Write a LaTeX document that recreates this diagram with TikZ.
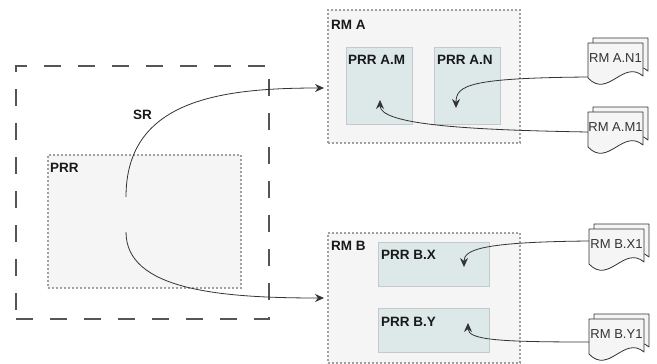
\documentclass[tikz,border=0pt]{standalone}
\usepackage{fontspec}
\setmainfont{Liberation Sans}
\usetikzlibrary{arrows.meta}
\definecolor{dashgray}{HTML}{555555}
\definecolor{dotgray}{HTML}{A0A0A0}
\definecolor{lightfill}{HTML}{F5F5F5}
\definecolor{prrfill}{HTML}{DDE8E8}
\definecolor{prrline}{HTML}{C4CACA}
\definecolor{ink}{HTML}{333333}
\newcommand\rmdoc[3]{%
  \begin{scope}[shift={(#1+5,#2-5)}]
    \draw[docpage] (0,0) -- (55,0) -- (55,33) .. controls (35,16) and (20,56) .. (0,35) -- cycle;
  \end{scope}
  \begin{scope}[shift={(#1,#2)}]
    \draw[docpage] (0,0) -- (55,0) -- (55,33) .. controls (35,16) and (20,56) .. (0,35) -- cycle;
  \end{scope}
  \node[doctext] (#3) at (#1+27.5,#2+16) {\strut#3};%
}
\begin{document}
\begin{tikzpicture}[x=1pt,y=-1pt,
 outerbox/.style={draw=dashgray, line width=2.3pt, dash pattern=on 17pt off 17pt, anchor=north west, inner sep=0, rectangle},
 dotbox/.style={draw=dotgray, fill=lightfill, line width=2pt, dash pattern=on 2pt off 2pt, anchor=north west, inner sep=0, rectangle},
 prrbox/.style={draw=prrline, fill=prrfill, line width=1.2pt, anchor=north west, inner sep=0, rectangle},
 lbl/.style={font=\bfseries\fontsize{13.5}{15}\selectfont, anchor=west, inner sep=0, text=black!90},
 doctext/.style={font=\fontsize{13}{15}\selectfont, inner sep=0, text=ink},
 docpage/.style={draw=ink, fill=lightfill, line width=0.8pt, line join=round},
 link/.style={draw=ink, line width=0.8pt, -{Stealth[length=9pt,width=8pt,inset=3pt]}},
]
\useasboundingbox (0,0) rectangle (657,364);

% outer dashed region
\node[outerbox, minimum width=253pt, minimum height=253pt] (outer) at (15,65) {};
\node[dotbox, minimum width=193pt, minimum height=133pt] (prr) at (47,154) {};
\node[lbl] (prrlbl) at (50,168) {PRR};
\node[lbl] (srlbl) at (133,115) {SR};

% SR curves
\coordinate (srA) at (126,197);
\coordinate (srB) at (126,232);
\coordinate (toA) at (324,88);
\coordinate (toB) at (324,298);
\draw[link] (srA) .. controls (126,100) and (220,88) .. (toA);
\draw[link] (srB) .. controls (126,290) and (220,298) .. (toB);

% RM A
\node[dotbox, minimum width=192pt, minimum height=133pt] (rma) at (327,9) {};
\node[lbl] (rmalbl) at (331,25) {RM A};
\node[prrbox, minimum width=66pt, minimum height=77pt] (prram) at (346,47) {};
\node[prrbox, minimum width=66pt, minimum height=77pt] (prran) at (434,47) {};
\node[lbl] (prramlbl) at (348,60) {PRR A.M};
\node[lbl] (prranlbl) at (437,60) {PRR A.N};

% RM B
\node[dotbox, minimum width=192pt, minimum height=130pt] (rmb) at (327,232) {};
\node[lbl] (rmblbl) at (331,246) {RM B};
\node[prrbox, minimum width=111pt, minimum height=44pt] (prrbx) at (378,242) {};
\node[prrbox, minimum width=111pt, minimum height=44pt] (prrby) at (378,308) {};
\node[lbl] (prrbxlbl) at (381,255) {PRR B.X};
\node[lbl] (prrbylbl) at (381,322) {PRR B.Y};

% documents
\rmdoc{588}{43}{RM A.N1}
\rmdoc{588}{112}{RM A.M1}
\rmdoc{589}{229}{RM B.X1}
\rmdoc{589}{319}{RM B.Y1}

% links from documents
\coordinate (an1) at (588,77);
\coordinate (am1) at (588,132);
\coordinate (bx1) at (589,241);
\coordinate (by1) at (589,342);
\coordinate (anT) at (456,108);
\coordinate (amT) at (380,100);
\coordinate (bxT) at (464,267);
\coordinate (byT) at (468,323);
\draw[link] (an1) .. controls (470,78) and (456,85) .. (anT);
\draw[link] (am1) .. controls (470,130) and (380,125) .. (amT);
\draw[link] (bx1) .. controls (480,242) and (464,250) .. (bxT);
\draw[link] (by1) .. controls (500,342) and (468,340) .. (byT);
\end{tikzpicture}
\end{document}
